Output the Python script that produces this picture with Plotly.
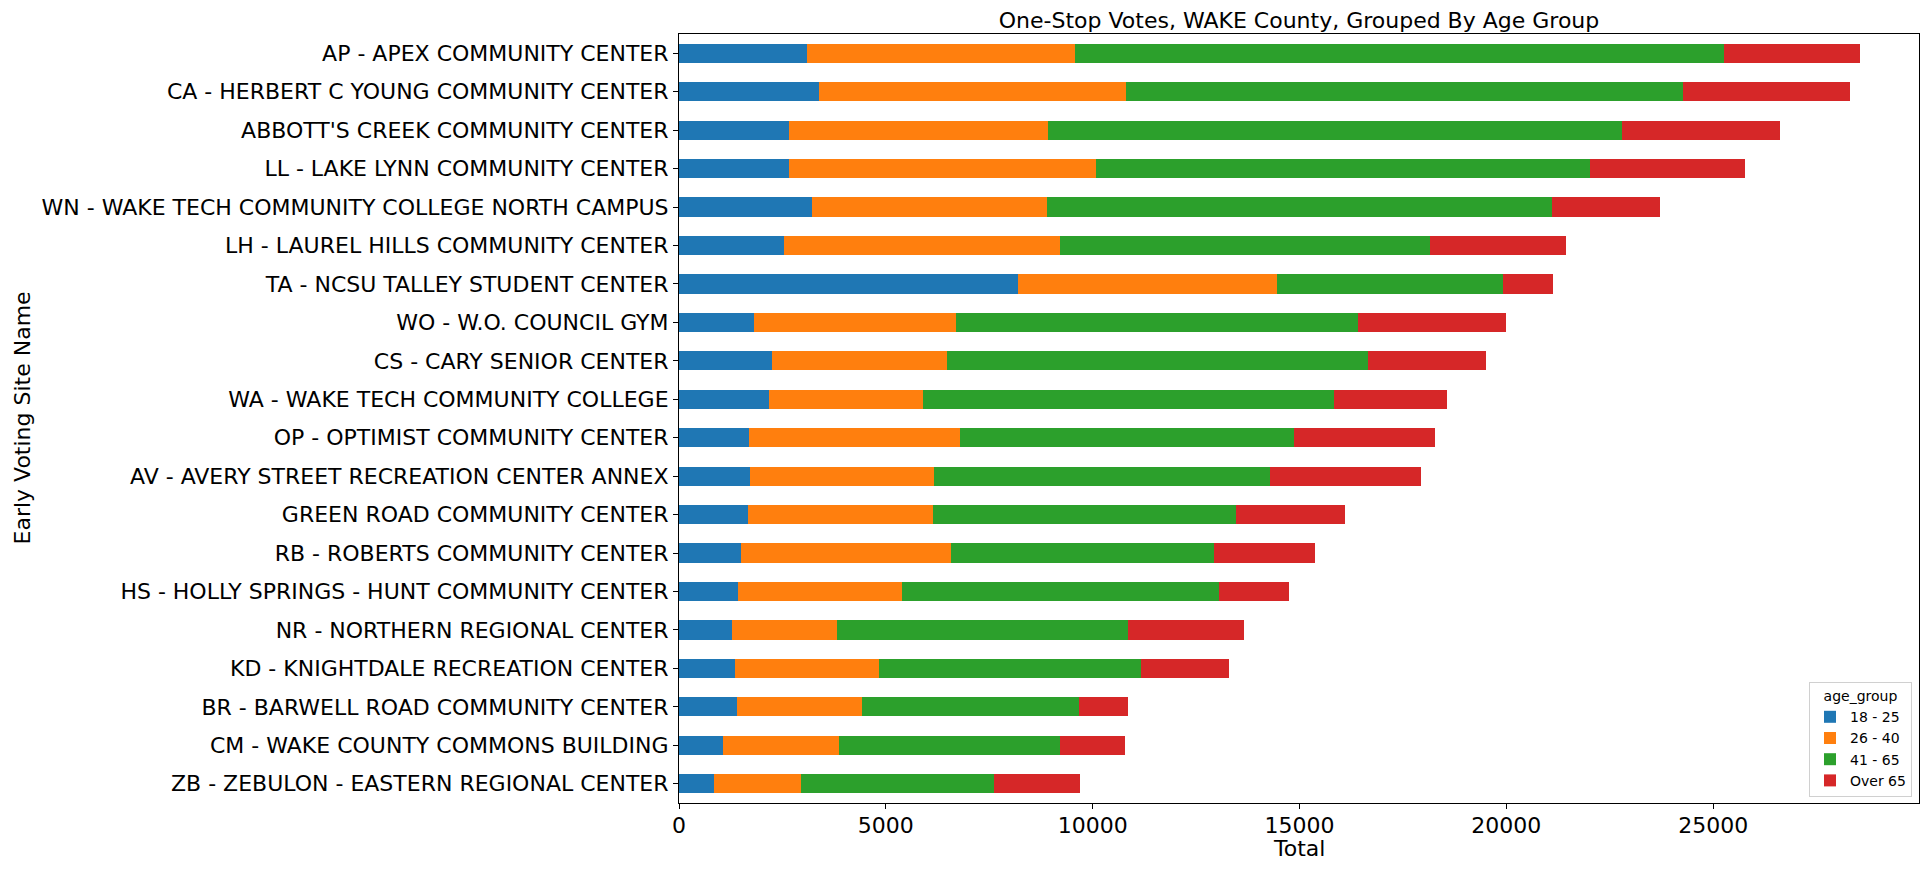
import plotly.graph_objects as go

sites = [
    "AP - APEX COMMUNITY CENTER",
    "CA - HERBERT C YOUNG COMMUNITY CENTER",
    "ABBOTT'S CREEK COMMUNITY CENTER",
    "LL - LAKE LYNN COMMUNITY CENTER",
    "WN - WAKE TECH COMMUNITY COLLEGE NORTH CAMPUS",
    "LH - LAUREL HILLS COMMUNITY CENTER",
    "TA - NCSU TALLEY STUDENT CENTER",
    "WO - W.O. COUNCIL GYM",
    "CS - CARY SENIOR CENTER",
    "WA - WAKE TECH COMMUNITY COLLEGE",
    "OP - OPTIMIST COMMUNITY CENTER",
    "AV - AVERY STREET RECREATION CENTER ANNEX",
    "GREEN ROAD COMMUNITY CENTER",
    "RB - ROBERTS COMMUNITY CENTER",
    "HS - HOLLY SPRINGS - HUNT COMMUNITY CENTER",
    "NR - NORTHERN REGIONAL CENTER",
    "KD - KNIGHTDALE RECREATION CENTER",
    "BR - BARWELL ROAD COMMUNITY CENTER",
    "CM - WAKE COUNTY COMMONS BUILDING",
    "ZB - ZEBULON - EASTERN REGIONAL CENTER",
]

age_18_25 = [3097, 3388, 2669, 2669, 3213, 2533, 8206, 1814, 2241, 2183,
             1697, 1717, 1678, 1503, 1425, 1289, 1348, 1406, 1056, 842]
age_26_40 = [6470, 7422, 6256, 7422, 5693, 6684, 6257, 4877, 4236, 3711,
             5091, 4449, 4469, 5071, 3964, 2526, 3497, 3012, 2817, 2099]
age_41_65 = [15699, 13466, 13873, 11930, 12202, 8938, 5460, 9735, 10181, 9929,
             8083, 8122, 7325, 6354, 7675, 7034, 6334, 5246, 5344, 4663]
age_over_65 = [3283, 4041, 3828, 3750, 2603, 3283, 1204, 3573, 2857, 2740,
               3400, 3653, 2622, 2448, 1671, 2798, 2118, 1185, 1574, 2099]

group_names = ["18 - 25", "26 - 40", "41 - 65", "Over 65"]
group_values = [age_18_25, age_26_40, age_41_65, age_over_65]
colors = ["#1f77b4", "#ff7f0e", "#2ca02c", "#d62728"]

x_ticks = [0, 5000, 10000, 15000, 20000, 25000]

# page body has an 8px default margin; figure sized to fit inside the window
OFF = 8
W, H = 1929 - 2 * OFF, 869 - 2 * OFF
# plot area in window pixels: x 679..1919, y 34..803
L = 679 - OFF
T = 34 - OFF
R = W - (1919 - OFF)
B = H - (803 - OFF)
pw = W - L - R
ph = H - T - B
FONT = "DejaVu Sans"

fig = go.Figure()
for name, vals, c in zip(group_names, group_values, colors):
    fig.add_trace(go.Bar(
        y=sites, x=vals, name=name, orientation="h",
        marker=dict(color=c, line=dict(width=0)),
    ))

totals = [sum(v) for v in zip(*group_values)]
xmax = max(totals) * 1.05

fig.update_layout(
    width=W, height=H,
    barmode="stack", bargap=0.5,
    margin=dict(l=L, r=R, t=T, b=B, autoexpand=False),
    plot_bgcolor="white", paper_bgcolor="white",
    font=dict(family=FONT, color="black", size=22),
    title=dict(text="One-Stop Votes, WAKE County, Grouped By Age Group",
               x=(L + pw / 2) / W, xanchor="center",
               y=1 - (20 - OFF) / H, yanchor="middle", yref="container",
               font=dict(size=22, family=FONT, color="black")),
    xaxis=dict(range=[0, xmax], tickvals=x_ticks, ticktext=[str(t) for t in x_ticks],
               showgrid=False, zeroline=False, showline=True, linecolor="black",
               linewidth=1.1, mirror=True, ticks="outside", ticklen=5, tickwidth=1.1,
               tickcolor="black", tickfont=dict(size=22, family=FONT),
               ticklabelstandoff=-2),
    yaxis=dict(autorange="reversed", showgrid=False, zeroline=False, showline=True,
               linecolor="black", linewidth=1.1, mirror=True, ticks="outside",
               ticklen=5, tickwidth=1.1, tickcolor="black",
               tickfont=dict(size=22, family=FONT)),
    legend=dict(x=(1912 - OFF - L) / pw, xanchor="right",
                y=(H - B - (797 - OFF)) / ph, yanchor="bottom",
                title=dict(text="age_group", side="top center", font=dict(size=14, family=FONT)),
                font=dict(size=14, family=FONT), bordercolor="#d0d0d0", borderwidth=1,
                bgcolor="rgba(255,255,255,0.8)", traceorder="normal",
                itemwidth=30),
    showlegend=True,
    annotations=[
        dict(text="Total", xref="paper", yref="paper", x=0.5,
             y=-((848 - OFF) - (H - B)) / ph,
             xanchor="center", yanchor="middle", showarrow=False,
             font=dict(size=22, family=FONT, color="black")),
        dict(text="Early Voting Site Name", xref="paper", yref="paper",
             x=(14 - L) / pw, y=0.5, xanchor="center", yanchor="middle",
             textangle=-90, showarrow=False,
             font=dict(size=22, family=FONT, color="black")),
    ],
)

fig.write_html("out.html")
